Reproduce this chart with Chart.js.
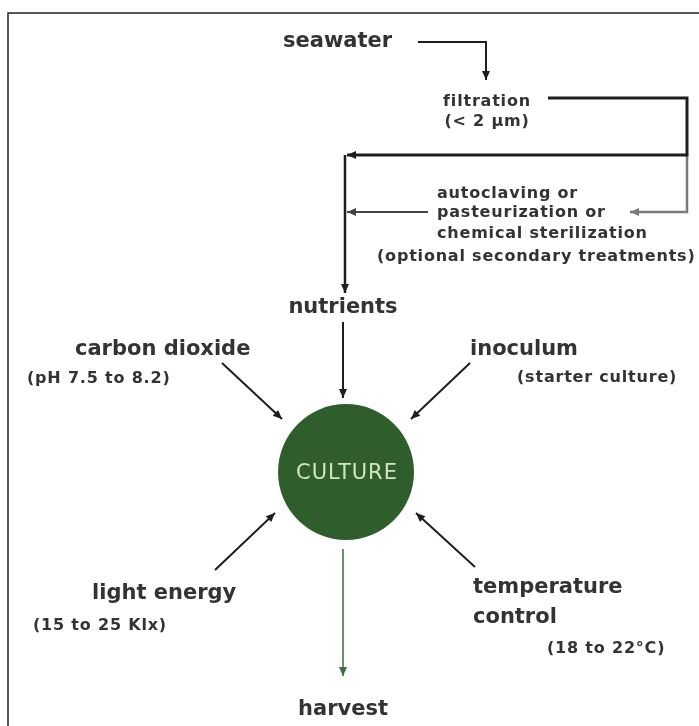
<!DOCTYPE html>
<html>
<head>
<meta charset="utf-8">
<script src="https://cdn.jsdelivr.net/npm/chart.js@4/dist/chart.umd.min.js"></script>
<style>
  html, body { margin: 0; padding: 0; background: #fff; }
  #wrap { width: 699px; height: 726px; position: relative; }
</style>
</head>
<body>
<div id="wrap"><canvas id="flow"></canvas></div>
<script>
  // node labels (x, y = baseline in diagram units)
  const labelText = [
    'seawater', 'filtration', '(< 2 µm)',
    'autoclaving or', 'pasteurization or', 'chemical sterilization', '(optional secondary treatments)',
    'nutrients', 'carbon dioxide', '(pH 7.5 to 8.2)', 'inoculum', '(starter culture)',
    'CULTURE', 'light energy', '(15 to 25 Klx)', 'temperature', 'control', '(18 to 22°C)', 'harvest',
  ];
  const labelX = [283, 487, 487, 437, 437, 437, 377, 343, 75, 27, 470, 517, 347, 92, 33, 473, 473, 547, 343];
  const labelY = [47, 106, 126, 198, 217, 238, 261, 313, 355, 383, 355, 382, 479, 599, 630, 593, 623, 653, 715];
  const labelSize = [21, 16, 16, 16, 16, 16, 16, 21, 21, 16, 21, 16, 21, 21, 16, 21, 21, 16, 21];
  const labelAlign = ['left', 'center', 'center', 'left', 'left', 'left', 'left', 'center', 'left', 'left',
    'left', 'left', 'center', 'left', 'left', 'left', 'left', 'left', 'center'];

  // connectors, as [x, y] points; the last point carries the arrow head
  const framePath = [[8, 726], [8, 13], [699, 13]];
  const seawaterPath = [[418, 42], [486, 42], [486, 80]];
  const filtrationPath = [[548, 98], [687, 98], [687, 155], [347, 155]];
  const mainDownPath = [[345, 155], [345, 293]];
  const optionalBranch = [[687, 155], [687, 212], [630, 212]];
  const optionalReturn = [[428, 212], [347, 212]];
  const nutrientsArrow = [[343, 322], [343, 398]];
  const co2Arrow = [[222, 363], [282, 419]];
  const inoculumArrow = [[470, 363], [411, 419]];
  const lightArrow = [[215, 570], [275, 513]];
  const tempArrow = [[475, 567], [416, 513]];
  const harvestArrow = [[343, 549], [343, 676]];

  // the culture vessel
  const cultureX = 346;
  const cultureY = 472;
  const cultureR = 68;

  function pts(path) {
    return path.map(([x, y]) => ({ x, y }));
  }

  function connector(path, color, width, arrow) {
    return {
      type: 'line',
      data: pts(path),
      borderColor: color,
      borderWidth: width,
      pointRadius: 0,
      fill: false,
      tension: 0,
      clip: false,
      arrow: arrow,
    };
  }

  const arrowHeads = {
    id: 'arrowHeads',
    afterDatasetsDraw(chart) {
      const ctx = chart.ctx;
      chart.data.datasets.forEach((ds, i) => {
        if (!ds.arrow) return;
        const els = chart.getDatasetMeta(i).data;
        const tip = els[els.length - 1];
        const prev = els[els.length - 2];
        const ang = Math.atan2(tip.y - prev.y, tip.x - prev.x);
        const len = 9, half = 4;
        ctx.save();
        ctx.fillStyle = ds.borderColor;
        ctx.translate(tip.x, tip.y);
        ctx.rotate(ang);
        ctx.beginPath();
        ctx.moveTo(0, 0);
        ctx.lineTo(-len, -half);
        ctx.lineTo(-len, half);
        ctx.closePath();
        ctx.fill();
        ctx.restore();
      });
    },
  };

  const textLabels = {
    id: 'textLabels',
    afterDraw(chart) {
      const ctx = chart.ctx;
      const sx = chart.scales.x, sy = chart.scales.y;
      ctx.save();
      ctx.textBaseline = 'alphabetic';
      labelText.forEach((t, i) => {
        const culture = t === 'CULTURE';
        const small = labelSize[i] < 18;
        ctx.font = (culture ? '' : 'bold ') + labelSize[i] + 'px "DejaVu Sans"';
        ctx.letterSpacing = culture ? '1px' : small ? '0.8px' : '0px';
        ctx.fillStyle = culture ? '#d2e4c4' : '#333';
        ctx.textAlign = labelAlign[i];
        ctx.fillText(t, sx.getPixelForValue(labelX[i]), sy.getPixelForValue(labelY[i]));
      });
      ctx.restore();
    },
  };

  new Chart(document.getElementById('flow'), {
    type: 'scatter',
    data: {
      datasets: [
        connector(framePath, '#222', 1.5, false),
        connector(seawaterPath, '#1e1e1e', 2, true),
        connector(filtrationPath, '#1e1e1e', 3, true),
        connector(mainDownPath, '#1e1e1e', 2.5, true),
        connector(optionalBranch, '#7a7a7a', 2.5, true),
        connector(optionalReturn, '#444', 2, true),
        connector(nutrientsArrow, '#1e1e1e', 2, true),
        connector(co2Arrow, '#1e1e1e', 2, true),
        connector(inoculumArrow, '#1e1e1e', 2, true),
        connector(lightArrow, '#1e1e1e', 2, true),
        connector(tempArrow, '#1e1e1e', 2, true),
        connector(harvestArrow, '#3f6b3f', 1.5, true),
        {
          type: 'bubble',
          data: [{ x: cultureX, y: cultureY, r: cultureR }],
          backgroundColor: '#2f5d2c',
          borderColor: '#2f5d2c',
          borderWidth: 0,
          clip: false,
        },
      ],
    },
    options: {
      responsive: true,
      maintainAspectRatio: false,
      animation: false,
      events: [],
      layout: { padding: 0, autoPadding: false },
      plugins: { legend: { display: false }, tooltip: { enabled: false } },
      scales: {
        x: { type: 'linear', min: 0, max: 699, display: false },
        y: { type: 'linear', min: 0, max: 726, reverse: true, display: false },
      },
    },
    plugins: [arrowHeads, textLabels],
  });
</script>
</body>
</html>
